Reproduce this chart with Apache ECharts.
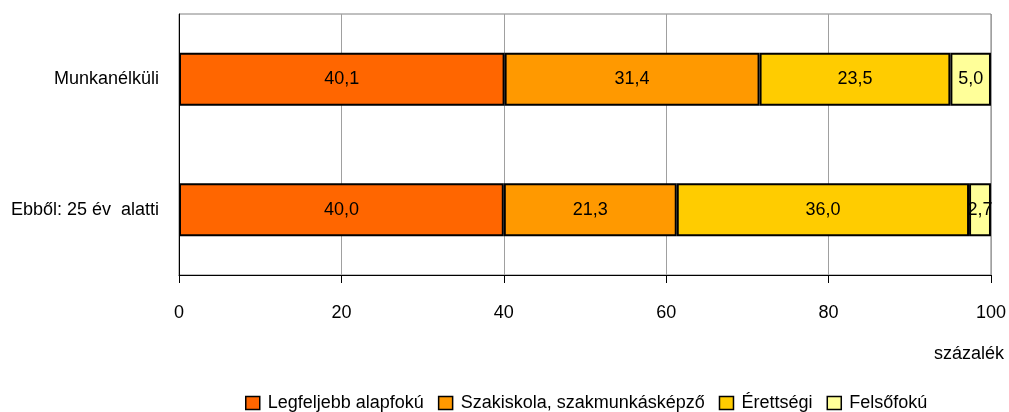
<!DOCTYPE html>
<html lang="hu">
<head>
    <meta charset="UTF-8">
    <title>Munkanélküliek iskolai végzettség szerint</title>
    <script src="https://cdn.jsdelivr.net/npm/echarts@6/dist/echarts.min.js"></script>
</head>
<body style="margin:0;">
<div id="bar" style="width: 1009px;height: 412px;"></div>
<script>
    var categories = ['Munkanélküli', 'Ebből: 25 év  alatti'];
    var seriesNames = ['Legfeljebb alapfokú', 'Szakiskola, szakmunkásképző', 'Érettségi', 'Felsőfokú'];
    var alapfoku = [40.1, 40.0];
    var szakiskola = [31.4, 21.3];
    var erettsegi = [23.5, 36.0];
    var felsofoku = [5.0, 2.7];
    var colors = ['#ff6600', '#ff9900', '#ffcc00', '#ffff99'];
    var xTicks = [0, 20, 40, 60, 80, 100];

    var font = '"Liberation Sans", Arial, sans-serif';
    var allData = [alapfoku, szakiskola, erettsegi, felsofoku];

    var myChart = echarts.init(document.getElementById('bar'));
    var series = [];
    for (var i = 0; i < allData.length; i++) {
        series.push({
            name: seriesNames[i],
            type: 'bar',
            stack: 'total',
            barWidth: 53,
            data: allData[i],
            itemStyle: {
                color: colors[i],
                borderColor: '#000',
                borderWidth: 2
            },
            label: {
                show: true,
                position: 'inside',
                color: '#000',
                fontFamily: font,
                fontSize: 18,
                formatter: function (p) {
                    return p.value.toFixed(1).replace('.', ',');
                }
            }
        });
    }

    var option = {
        animation: false,
        backgroundColor: '#fff',
        title: {
            text: 'százalék',
            right: 5,
            top: 345,
            padding: 0,
            textStyle: {
                fontFamily: font,
                fontSize: 18,
                fontWeight: 'normal',
                color: '#000'
            }
        },
        legend: {
            top: 394,
            left: 245,
            padding: 0,
            itemWidth: 14,
            itemHeight: 13,
            itemGap: 14,
            icon: 'rect',
            itemStyle: {
                borderColor: '#000',
                borderWidth: 1.5
            },
            textStyle: {
                fontFamily: font,
                fontSize: 18,
                color: '#000',
                padding: [0, 0, 0, 3]
            },
            data: seriesNames
        },
        grid: {
            left: 179,
            right: 16,
            top: 14,
            bottom: 137,
            show: true,
            borderColor: '#808080',
            borderWidth: 1
        },
        xAxis: {
            type: 'value',
            min: 0,
            max: 100,
            interval: 20,
            axisLine: { show: true, lineStyle: { color: '#000', width: 1 } },
            axisTick: { show: true, length: 8, lineStyle: { color: '#000' } },
            splitLine: { show: true, lineStyle: { color: '#a0a0a0', width: 1 } },
            axisLabel: {
                fontFamily: font,
                fontSize: 18,
                color: '#000',
                margin: 29,
                formatter: function (v) {
                    return xTicks.indexOf(v) >= 0 ? String(v) : '';
                }
            }
        },
        yAxis: {
            type: 'category',
            inverse: true,
            data: categories,
            axisLine: { show: true, lineStyle: { color: '#000', width: 1 } },
            axisTick: { show: false },
            axisLabel: {
                fontFamily: font,
                fontSize: 18,
                color: '#000',
                margin: 20
            }
        },
        series: series
    };
    myChart.setOption(option);
</script>
</body>
</html>
